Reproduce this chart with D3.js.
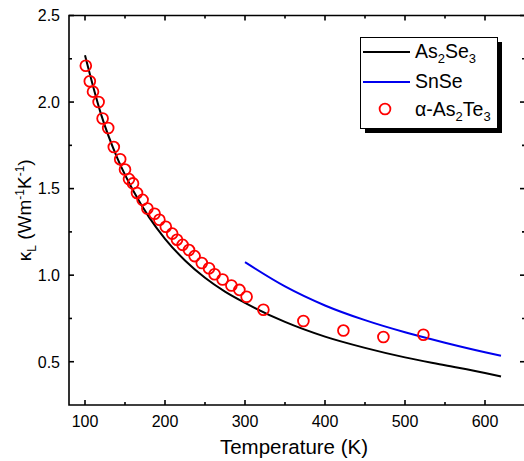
<!DOCTYPE html>
<html><head><meta charset="utf-8">
<script src="https://cdn.jsdelivr.net/npm/d3@7/dist/d3.min.js"></script>
<style>body{margin:0;background:#fff}svg{display:block;font-family:"Liberation Sans",Arial,sans-serif}</style>
</head><body>
<svg id="c" width="524" height="461"></svg>
<script>
// ---- data ----
const as2se3T = [100,120,140,160,180,200,225,250,275,300,350,400,450,500,550,600,620];
const as2se3K = [2.27,1.93,1.68,1.49,1.335,1.21,1.085,0.985,0.905,0.84,0.73,0.645,0.58,0.525,0.48,0.435,0.415];
const snseT = [300,350,400,450,500,550,600,620];
const snseK = [1.075,0.935,0.825,0.74,0.67,0.61,0.555,0.535];
const as2te3T = [101,106,110,117,122,129,136,144,150,155,160,165,172,178,187,193,201,209,215,222,230,237,246,255,262,272,283,293,302,323,373,423,473,523];
const as2te3K = [2.21,2.12,2.06,2.00,1.905,1.85,1.74,1.67,1.61,1.555,1.53,1.475,1.435,1.385,1.355,1.32,1.28,1.24,1.205,1.175,1.145,1.11,1.07,1.04,1.005,0.975,0.94,0.915,0.875,0.80,0.735,0.68,0.643,0.656];
const xTicks = [100,200,300,400,500,600];
const xMinor = [150,250,350,450,550];
const yTicks = [0.5,1.0,1.5,2.0,2.5];
const yMinor = [0.75,1.25,1.75,2.25];

// ---- layout ----
const L=69, R=525, T=15.5, B=405;
const x = d3.scaleLinear().domain([80,650]).range([L,R]);
const y = d3.scaleLinear().domain([0.25,2.5]).range([B,T]);
const svg = d3.select("#c");

// frame
const ax = svg.append("g").attr("stroke","#000").attr("stroke-width",1.6).attr("fill","none");
ax.append("path").attr("d",`M${L},${T}H${R}V${B}H${L}Z`);
xTicks.forEach(v=>{ ax.append("line").attr("x1",x(v)).attr("x2",x(v)).attr("y1",B).attr("y2",B-5);
  ax.append("line").attr("x1",x(v)).attr("x2",x(v)).attr("y1",T).attr("y2",T+5); });
xMinor.forEach(v=>{ ax.append("line").attr("x1",x(v)).attr("x2",x(v)).attr("y1",B).attr("y2",B-3);
  ax.append("line").attr("x1",x(v)).attr("x2",x(v)).attr("y1",T).attr("y2",T+3); });
yTicks.forEach(v=>{ ax.append("line").attr("x1",L).attr("x2",L+5).attr("y1",y(v)).attr("y2",y(v));
  ax.append("line").attr("x1",R).attr("x2",R-5).attr("y1",y(v)).attr("y2",y(v)); });
yMinor.forEach(v=>{ ax.append("line").attr("x1",L).attr("x2",L+3).attr("y1",y(v)).attr("y2",y(v));
  ax.append("line").attr("x1",R).attr("x2",R-3).attr("y1",y(v)).attr("y2",y(v)); });

// tick labels
svg.append("g").selectAll("text").data(xTicks).join("text")
  .attr("x",d=>x(d)).attr("y",427).attr("text-anchor","middle").attr("font-size",16).text(d=>d);
svg.append("g").selectAll("text").data(yTicks).join("text")
  .attr("x",60).attr("y",d=>y(d)+5.8).attr("text-anchor","end").attr("font-size",16).text(d=>d.toFixed(1));

// axis titles
svg.append("text").attr("x",(L+R)/2-3).attr("y",454).attr("text-anchor","middle").attr("font-size",20.5).text("Temperature (K)");
const yt = svg.append("text").attr("transform",`translate(31,${(T+B)/2}) rotate(-90)`).attr("text-anchor","middle").attr("font-size",19);
yt.append("tspan").text("κ");
yt.append("tspan").attr("font-size",12).attr("dy",5).text("L");
yt.append("tspan").attr("dy",-5).text(" (Wm");
yt.append("tspan").attr("font-size",12).attr("dy",-7).text("-1");
yt.append("tspan").attr("dy",7).text("K");
yt.append("tspan").attr("font-size",12).attr("dy",-7).text("-1");
yt.append("tspan").attr("dy",7).text(")");

// curves
const line = d3.line().curve(d3.curveMonotoneX);
svg.append("path").attr("d",line(as2se3T.map((t,i)=>[x(t),y(as2se3K[i])])))
  .attr("fill","none").attr("stroke","#000").attr("stroke-width",2);
svg.append("path").attr("d",line(snseT.map((t,i)=>[x(t),y(snseK[i])])))
  .attr("fill","none").attr("stroke","#0000ee").attr("stroke-width",2);
svg.append("g").selectAll("circle").data(as2te3T).join("circle")
  .attr("cx",d=>x(d)).attr("cy",(d,i)=>y(as2te3K[i])).attr("r",5.4)
  .attr("fill","none").attr("stroke","#ff0000").attr("stroke-width",1.8);

// legend
const lg = svg.append("g");
lg.append("rect").attr("x",365).attr("y",42).attr("width",137).attr("height",91).attr("fill","#000");
lg.append("rect").attr("x",360.5).attr("y",37.5).attr("width",137).attr("height",91).attr("fill","#fff").attr("stroke","#000").attr("stroke-width",1);
lg.append("line").attr("x1",363).attr("x2",410).attr("y1",52).attr("y2",52).attr("stroke","#000").attr("stroke-width",2);
lg.append("line").attr("x1",363).attr("x2",410).attr("y1",82).attr("y2",82).attr("stroke","#0000ee").attr("stroke-width",2);
lg.append("circle").attr("cx",385).attr("cy",109).attr("r",5.4).attr("fill","none").attr("stroke","#ff0000").attr("stroke-width",1.8);
function chem(g,xx,yy,parts){
  const t=g.append("text").attr("x",xx).attr("y",yy).attr("font-size",19.5);
  let down=false;
  parts.forEach(p=>{
    if(p.sub){ t.append("tspan").attr("font-size",13).attr("dy",5).text(p.s); down=true; }
    else { const ts=t.append("tspan").text(p.s); if(down){ ts.attr("dy",-5); down=false; } }
  });
}
chem(lg,415,58,[{s:"As"},{s:"2",sub:1},{s:"Se"},{s:"3",sub:1}]);
chem(lg,415,88,[{s:"SnSe"}]);
chem(lg,415,116,[{s:"α-As"},{s:"2",sub:1},{s:"Te"},{s:"3",sub:1}]);
</script>
</body></html>
